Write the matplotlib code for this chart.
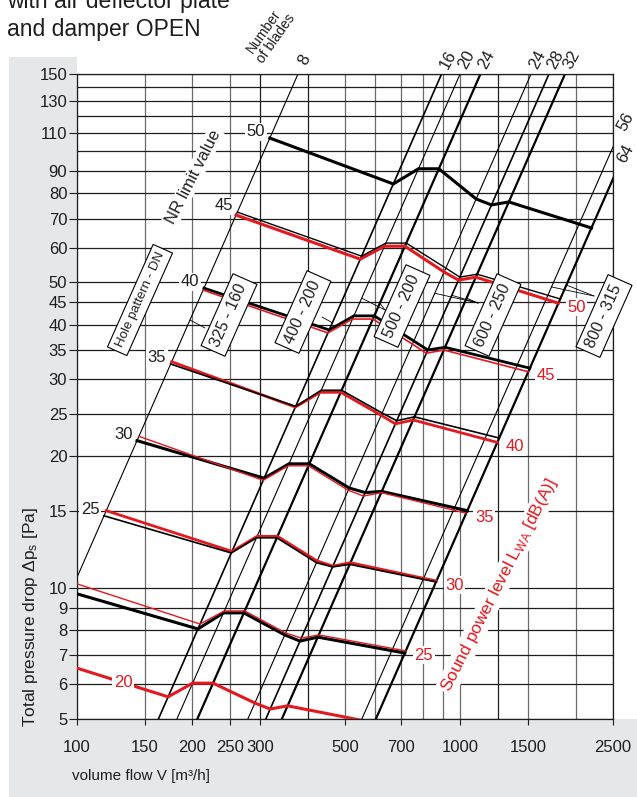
import numpy as np
import matplotlib
matplotlib.use("Agg")
import matplotlib.pyplot as plt
from matplotlib.patches import Rectangle
from matplotlib.ticker import NullLocator

plt.rcParams['font.family'] = ['Liberation Sans', 'DejaVu Sans']
plt.rcParams['mathtext.fontset'] = 'custom'
plt.rcParams['mathtext.rm'] = 'Liberation Sans'
plt.rcParams['mathtext.it'] = 'Liberation Sans:italic'

RED = '#e3191f'
INK = '#1e1e1e'
W, H = 637, 797

# grid and ticks
x_grid = [100, 150, 200, 250, 300, 400, 500, 600, 700, 800, 900, 1000, 1250, 1500, 2000, 2500]
x_dark = [300, 400, 1250, 2500]
x_ticks = [100, 150, 200, 250, 300, 500, 700, 1000, 1500, 2500]
y_grid = [5, 6, 7, 8, 9, 10, 15, 20, 25, 30, 35, 40, 45, 50, 60, 70, 80, 90, 100, 110, 120, 130, 140, 150]
y_ticks = [5, 6, 7, 8, 9, 10, 15, 20, 25, 30, 35, 40, 45, 50, 60, 70, 80, 90, 110, 130, 150]

# blade lines (dp ~ V^2), given as the flow where each one reaches 150 Pa
blade_names = ['8', '16', '20', '24', '24', '28', '32', '56', '64']
blade_v150 = [377, 893, 998, 1128, 1528, 1702, 1874, 3030, 3296]
blade_lw = [0.8, 1.2, 0.8, 1.6, 0.8, 1.2, 1.6, 0.8, 1.6]

# the corners of every curve sit on these blade lines (index into blade_v150)
knot_on = [0, 1, 2, 3, 4, 5, 6, 8]

# NR limit curves (black): pressure drop at each corner [Pa]
nr50 = [107, 84.0, 91.0, 91.0, 77.6, 75.2, 76.4, 66.6]
nr45 = [72.4, 57.4, 61.5, 61.5, 53.9, 51.4, 52.2, 45.8]
nr40 = [48.5, 38.9, 41.9, 41.9, 36.7, 35.0, 35.5, 31.8]
nr35 = [32.5, 26.0, 28.3, 28.3, 25.1, 24.1, 24.6, 22.0]
nr30 = [21.7, 17.8, 19.2, 19.2, 16.9, 16.5, 16.6, 15.0]
nr25 = [14.6, 12.0, 13.0, 13.0, 11.4, 11.15, 11.3, 10.3]
nr20 = [9.77, 8.04, 8.75, 8.75, 7.79, 7.54, 7.70, 7.08]

# sound power level curves (red)
lwa50 = [71.3, 56.5, 60.5, 60.5, 52.8, 50.6, 51.4, 44.8]
lwa45 = [48.0, 38.3, 41.2, 41.2, 36.1, 34.4, 35.0, 31.2]
lwa40 = [32.9, 25.9, 28.0, 28.0, 24.8, 23.7, 24.2, 21.5]
lwa35 = [22.2, 17.6, 19.0, 19.0, 16.7, 16.2, 16.5, 14.8]
lwa30 = [15.0, 12.1, 13.1, 13.1, 11.5, 11.2, 11.4, 10.35]
lwa25 = [10.24, 8.25, 8.84, 8.84, 7.87, 7.66, 7.79, 7.16]
lwa20 = [6.93, 5.62, 6.04, 6.04, 5.44, 5.27, 5.36, 4.90]

black_curves = [('50', nr50, 2.2), ('45', nr45, 1.0), ('40', nr40, 2.0), ('35', nr35, 1.2),
                ('30', nr30, 2.2), ('25', nr25, 1.2), (None, nr20, 2.2)]
red_curves = [('50', lwa50, 2.2), ('45', lwa45, 1.2), ('40', lwa40, 2.0), ('35', lwa35, 1.0),
              ('30', lwa30, 2.0), ('25', lwa25, 1.0), ('20', lwa20, 2.2)]

# hole pattern boxes (text, centre in px, font size)
box_names = ['Hole pattern - DN', '325 - 160', '400 - 200', '500 - 200', '600 - 250', '800 - 315']
box_px = [(140, 300), (229, 315), (303, 312), (402, 306), (493, 315), (604, 316)]
box_fs = [9.5, 11.5, 11.5, 11.5, 11.5, 11.5]

# leaders from blade lines to the boxes
leader_line = [0, 1, 2, 3, 4, 5, 6, 7, 8]
leader_dp = [41.0, 40.4, 46.0, 44.8, 47.2, 46.7, 46.0, 48.8, 49.3]
leader_px = [(205, 328), (322, 317), (385, 310), (385, 310), (478, 303), (478, 303),
             (478, 303), (594, 296), (594, 296)]


def px(x, y):
    return x / W, 1 - y / H


def corner_flows(dps):
    return np.array([blade_v150[k] * np.sqrt(p / 150.0) for k, p in zip(knot_on, dps)])


fig = plt.figure(figsize=(W / 100, H / 100), dpi=100)
fig.patches.append(Rectangle(px(9, 797), (77 - 9) / W, (797 - 57) / H, transform=fig.transFigure,
                             fc='#e6e7e8', ec='none', zorder=-5))
fig.patches.append(Rectangle(px(9, 797), (W - 9) / W, (797 - 719) / H, transform=fig.transFigure,
                             fc='#e6e7e8', ec='none', zorder=-5))

ax = fig.add_axes([77 / W, 1 - 719 / H, 536 / W, 645 / H])
ax.set_xscale('log')
ax.set_yscale('log')
ax.set_xlim(100, 2500)
ax.set_ylim(5, 150)

for v in x_grid:
    ax.axvline(v, color=INK if v in x_dark else '#6a6a6a', lw=0.9, zorder=1)
for p in y_grid:
    ax.axhline(p, color=INK, lw=0.9, zorder=1)

ax.set_xticks(x_ticks)
ax.set_xticklabels([str(v) for v in x_ticks])
ax.set_yticks(y_ticks)
ax.set_yticklabels([str(v) for v in y_ticks])
ax.xaxis.set_minor_locator(NullLocator())
ax.yaxis.set_minor_locator(NullLocator())
ax.tick_params(axis='x', direction='out', length=4, width=0.8, pad=11, labelsize=12,
               colors=INK)
ax.tick_params(axis='y', direction='out', length=5.5, width=0.8, pad=1.5, labelsize=12,
               colors=INK)
for s in ax.spines.values():
    s.set_color(INK)
    s.set_linewidth(0.9)

# blade lines
vv = np.array([40.0, 6000.0])
for name, v150, lw in zip(blade_names, blade_v150, blade_lw):
    ax.plot(vv, 150 * (vv / v150) ** 2, color='k', lw=lw, zorder=2)
    if v150 < 2500:
        ax.annotate(name, (v150, 150), xytext=(4.5, 10), textcoords='offset points',
                    rotation=62, ha='center', va='center', fontsize=12, color=INK,
                    annotation_clip=False)
    else:
        ax.annotate(name, (2500, 150 * (2500 / v150) ** 2), xytext=(9, 18),
                    textcoords='offset points', rotation=62, ha='center', va='center',
                    fontsize=12, color=INK, annotation_clip=False)

# curves
for label, dps, lw in red_curves:
    ax.plot(corner_flows(dps), dps, color=RED, lw=lw, zorder=4 if lw < 1.5 else 3,
            solid_joinstyle='miter')
for label, dps, lw in black_curves:
    ax.plot(corner_flows(dps), dps, color='k', lw=lw, zorder=4 if lw < 1.5 else 3,
            solid_joinstyle='miter')

lab_box = dict(fc='white', ec='none', pad=1.2)
for label, dps, lw in black_curves:
    if label:
        ax.annotate(label, (corner_flows(dps)[0], dps[0]), xytext=(-10, 4.5),
                    textcoords='offset points', ha='center', va='center', fontsize=12,
                    color=INK, bbox=lab_box, zorder=6)
for label, dps, lw in red_curves:
    vs = corner_flows(dps)
    if label != '20':
        ax.annotate(label, (vs[-1], dps[-1]), xytext=(13, -3), textcoords='offset points',
                    ha='center', va='center', fontsize=12, color=RED, bbox=lab_box, zorder=6)
    else:
        v_lab = 132
        p_lab = np.exp(np.interp(np.log(v_lab), np.log(vs[:2]), np.log(dps[:2])))
        ax.text(v_lab, p_lab, label, ha='center', va='center', fontsize=12, color=RED,
                bbox=lab_box, zorder=6)

# leaders to the hole pattern boxes
for k, p, (lx, ly) in zip(leader_line, leader_dp, leader_px):
    ax.annotate('', xy=(blade_v150[k] * np.sqrt(p / 150.0), p), xytext=px(lx, ly),
                textcoords='figure fraction',
                arrowprops=dict(arrowstyle='-', lw=0.6, color='k', shrinkA=0, shrinkB=0),
                zorder=2, annotation_clip=False)

for name, (bx, by), fs in zip(box_names, box_px, box_fs):
    fig.text(*px(bx, by), name, rotation=66, ha='center', va='center', fontsize=fs,
             color=INK, rotation_mode='anchor',
             bbox=dict(boxstyle='square,pad=0.35', fc='white', ec='k', lw=0.8), zorder=8)

fig.text(*px(193, 177), 'NR limit value', rotation=63, ha='center', va='center',
         fontsize=12, color=INK, rotation_mode='anchor',
         bbox=dict(fc='white', ec='none', pad=1), zorder=7)
fig.text(*px(499, 585), r'Sound power level L$_{\mathrm{WA}}$ [dB(A)]', rotation=63,
         ha='center', va='center', fontsize=12.5, color=RED, rotation_mode='anchor',
         bbox=dict(fc='white', ec='none', pad=1), zorder=7)
fig.text(*px(270, 35), 'Number\nof blades', rotation=55, ha='center', va='center',
         fontsize=10, color=INK, rotation_mode='anchor', linespacing=1.0)

fig.text(*px(7, 8), 'with air deflector plate', fontsize=16.5, color=INK, va='baseline')
fig.text(*px(7, 36), 'and damper OPEN', fontsize=16.5, color=INK, va='baseline')

fig.text(*px(30, 617), r'Total pressure drop Δp$_{\mathrm{s}}$ [Pa]', rotation=90,
         ha='center', va='center', fontsize=12.5, color=INK)
fig.text(*px(72, 776), 'volume flow V [m³/h]', ha='left', va='center', fontsize=11,
         color=INK)

fig.savefig('out.png', dpi=100)
